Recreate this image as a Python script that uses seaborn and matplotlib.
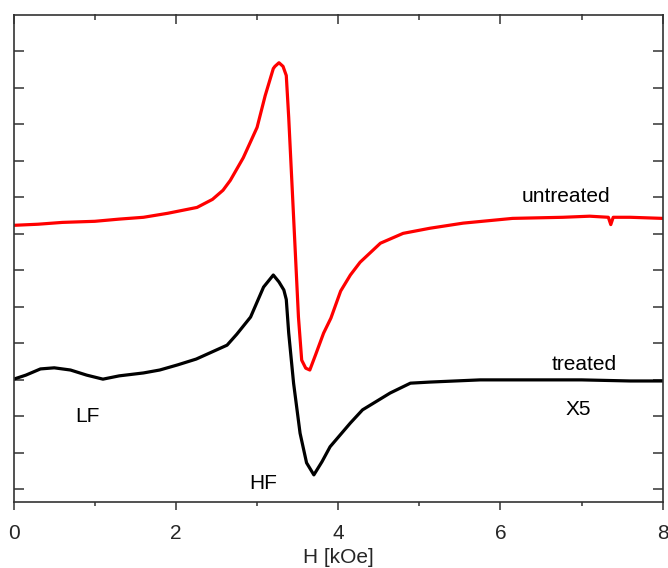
import matplotlib
matplotlib.use("Agg")
import matplotlib.pyplot as plt
import seaborn as sns
import pandas as pd
import numpy as np
from matplotlib.ticker import MultipleLocator

# ---- data ----
h_untreated = [0.0, 0.3, 0.6, 1.0, 1.3, 1.6, 1.9, 2.26, 2.45, 2.58, 2.67, 2.83,
               3.0, 3.1, 3.2, 3.22, 3.27, 3.32, 3.36, 3.39, 3.43, 3.47, 3.51,
               3.55, 3.6, 3.65, 3.72, 3.82, 3.91, 4.03, 4.15, 4.27, 4.52, 4.8,
               5.13, 5.54, 6.15, 6.77, 7.1, 7.33, 7.36, 7.39, 7.6, 8.0]
s_untreated = [7.23, 7.26, 7.31, 7.34, 7.40, 7.45, 7.56, 7.72, 7.94, 8.19, 8.46, 9.08,
               9.91, 10.78, 11.52, 11.58, 11.68, 11.58, 11.33, 10.18, 8.37, 6.55, 4.72,
               3.54, 3.32, 3.27, 3.68, 4.28, 4.69, 5.43, 5.87, 6.22, 6.74, 7.01,
               7.15, 7.29, 7.42, 7.45, 7.48, 7.45, 7.25, 7.45, 7.45, 7.42]

h_treated = [0.0, 0.15, 0.33, 0.5, 0.7, 0.9, 1.1, 1.3, 1.6, 1.8, 2.02, 2.25, 2.42,
             2.63, 2.75, 2.92, 3.0, 3.08, 3.2, 3.27, 3.33, 3.36, 3.39, 3.45, 3.53,
             3.61, 3.7, 3.8, 3.9, 4.15, 4.3, 4.64, 4.89, 5.13, 5.75, 6.36, 7.0,
             7.6, 8.0]
s_treated = [3.02, 3.13, 3.30, 3.33, 3.27, 3.13, 3.02, 3.11, 3.19, 3.27, 3.41, 3.57, 3.74,
             3.95, 4.25, 4.72, 5.13, 5.54, 5.87, 5.68, 5.46, 5.20, 4.28, 2.91, 1.54,
             0.73, 0.40, 0.76, 1.17, 1.82, 2.18, 2.64, 2.91, 2.94, 3.00, 3.00, 3.00,
             2.97, 2.97]

x_ticks = [0, 2, 4, 6, 8]
x_tick_labels = ["0", "2", "4", "6", "8"]
labels_text = ["untreated", "treated", "X5", "LF", "HF"]
labels_x = [6.81, 7.03, 6.96, 0.91, 3.07]
labels_y = [8.02, 3.43, 2.20, 2.01, 0.16]

df = pd.concat([
    pd.DataFrame({"H": h_untreated, "S": s_untreated, "sample": "untreated"}),
    pd.DataFrame({"H": h_treated, "S": s_treated, "sample": "treated"}),
], ignore_index=True)

sns.set_style("ticks")
plt.rcParams['font.family'] = ['Liberation Sans', 'DejaVu Sans']

W, H = 668, 568
fig = plt.figure(figsize=(W / 100, H / 100), dpi=100)
left, right, top, bottom = 13.7, 662.7, 14.5, 501.7
ax = fig.add_axes([left / W, 1 - bottom / H, (right - left) / W, (bottom - top) / H])

sns.lineplot(data=df, x="H", y="S", hue="sample",
             palette={"untreated": "#ff0000", "treated": "#000000"},
             estimator=None, sort=False, linewidth=2.3, legend=False, ax=ax)

ax.set_xlim(0, 8)
ax.set_ylim(-0.334, 13.0)
ax.set_xticks(x_ticks)
ax.set_xticklabels(x_tick_labels)
ax.xaxis.set_minor_locator(MultipleLocator(1))
ax.set_yticks(np.arange(0, 13))
ax.set_yticklabels([])
ax.set_xlabel("H [kOe]", fontsize=15, labelpad=3.5)
ax.set_ylabel("")

for sp in ax.spines.values():
    sp.set_visible(True)
    sp.set_color("#333333")
    sp.set_linewidth(1.2)

ax.tick_params(axis="x", which="major", direction="out", length=6, width=1.1,
               color="#333333", labelsize=15, pad=10, top=False)
ax.tick_params(axis="x", which="minor", direction="out", length=3, width=1.1,
               color="#333333", top=False)
ax.tick_params(axis="y", which="major", direction="in", length=7, width=1.1,
               color="#333333", left=True, right=True)

# top ticks (inward) via secondary axis
sec = ax.secondary_xaxis("top")
sec.set_xticks(x_ticks)
sec.set_xticklabels([])
sec.xaxis.set_minor_locator(MultipleLocator(1))
sec.tick_params(which="major", direction="in", length=7, width=1.1, color="#333333")
sec.tick_params(which="minor", direction="in", length=4, width=1.1, color="#333333")
sec.spines["top"].set_visible(False)

for t, x, y in zip(labels_text, labels_x, labels_y):
    ax.text(x, y, t, fontsize=15, ha="center", va="center", color="black")

fig.savefig("out.png", dpi=100)
